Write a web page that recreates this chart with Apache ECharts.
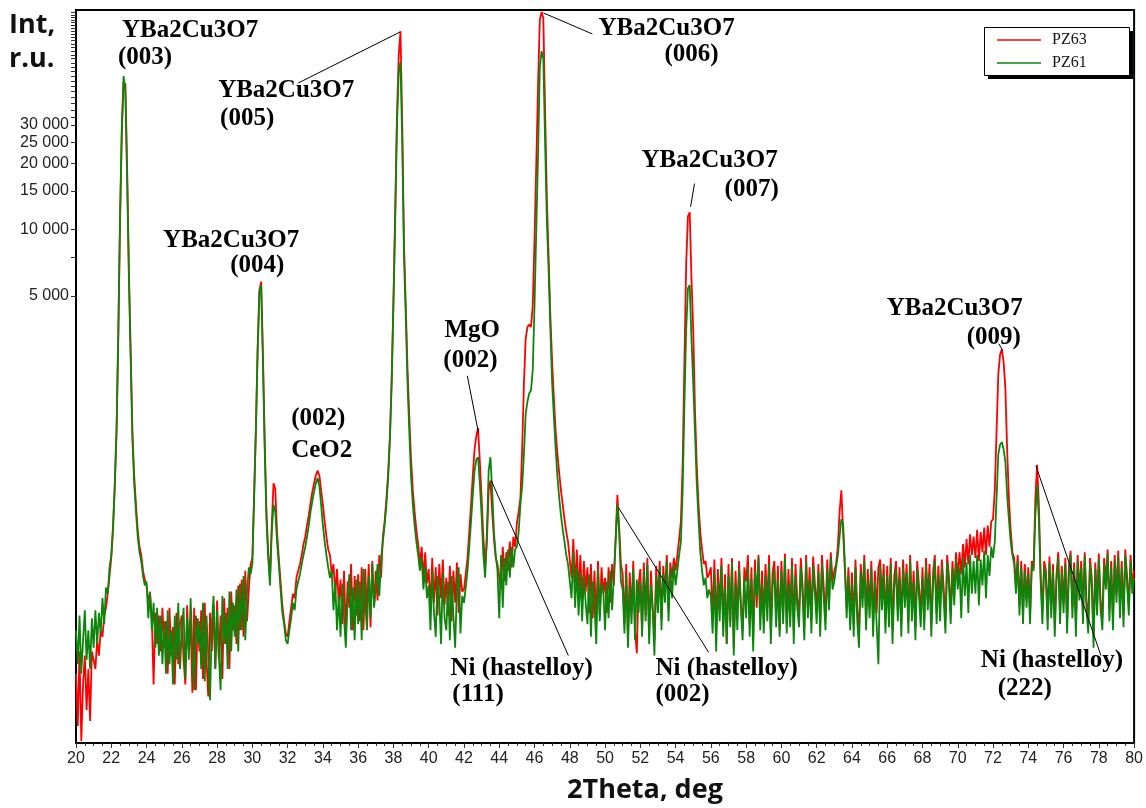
<!DOCTYPE html>
<html>
<head>
<meta charset="utf-8">
<script src="https://cdn.jsdelivr.net/npm/echarts@6/dist/echarts.min.js"></script>
<style>
  html, body { margin: 0; padding: 0; background: #fff; }
  #xrd { width: 1146px; height: 808px; }
</style>
</head>
<body>
<div id="xrd"></div>
<script>
// scan grid: 2Theta from 20 to 80 deg, 0.1 deg step
const START = 20
const STEP = 0.1

// PZ63 (red), one row per degree
const pz63 = [
  95, 55, 120, 47, 85, 115, 65, 100, 58, 120,
  120, 100, 135, 115, 150, 140, 175, 190, 220, 265,
  320, 430, 680, 1200, 3300, 11000, 28000, 47000, 46000, 19000,
  6500, 2800, 1200, 760, 560, 430, 360, 330, 280, 255,
  240, 205, 220, 170, 85, 180, 130, 175, 120, 190,
  125, 165, 95, 190, 115, 155, 85, 180, 105, 160,
  175, 110, 85, 195, 120, 165, 78, 190, 80, 170,
  120, 185, 90, 200, 110, 75, 180, 120, 195, 100,
  205, 110, 175, 90, 210, 130, 190, 100, 225, 150,
  195, 130, 240, 150, 255, 140, 280, 165, 230, 300,
  320, 620, 1250, 2900, 5300, 5800, 2700, 1100, 520, 340,
  260, 450, 700, 660, 420, 320, 250, 195, 165, 145,
  140, 165, 190, 220, 210, 260, 280, 300, 330, 370,
  400, 450, 500, 570, 640, 700, 760, 800, 760, 650,
  560, 470, 400, 350, 330, 270, 300, 220, 285, 200,
  255, 160, 280, 140, 250, 190, 300, 150, 265, 175,
  270, 165, 290, 150, 285, 180, 300, 155, 310, 195,
  280, 205, 330, 260, 400, 470, 590, 780, 1150, 2100,
  4800, 12000, 33000, 62000, 80000, 30000, 8500, 4500, 2300, 1400,
  900, 650, 520, 430, 370, 300, 360, 260, 340, 245,
  285, 190, 320, 200, 290, 175, 300, 210, 315, 195,
  260, 175, 295, 165, 280, 200, 305, 180, 270, 225,
  230, 270, 320, 420, 560, 760, 1000, 1150, 1250, 880,
  600, 400, 290, 380, 650, 720, 520, 390, 320, 300,
  300, 230, 360, 250, 340, 280, 380, 290, 400, 360,
  460, 520, 600, 1000, 2000, 3200, 3600, 3700, 3600, 4500,
  9000, 20000, 45000, 90000, 98000, 92000, 35000, 14000, 7500, 4000,
  2500, 1700, 1200, 950, 780, 650, 560, 480, 420, 380,
  380, 260, 390, 235, 350, 220, 330, 205, 310, 225,
  290, 180, 300, 170, 280, 160, 310, 175, 290, 220,
  260, 180, 290, 200, 300, 240, 400, 620, 440, 300,
  270, 160, 300, 140, 275, 180, 310, 150, 118, 240,
  285, 150, 305, 175, 320, 140, 280, 190, 135, 295,
  200, 310, 170, 295, 220, 330, 185, 305, 260, 320,
  280, 330, 390, 470, 850, 2500, 7000, 11500, 12000, 6000,
  3500, 1500, 850, 560, 420, 350, 300, 310, 260, 270,
  290, 170, 315, 150, 285, 190, 320, 160, 270, 130,
  300, 165, 320, 125, 280, 170, 310, 200, 150, 290,
  250, 330, 160, 290, 140, 315, 190, 330, 175, 280,
  170, 300, 190, 330, 150, 275, 310, 165, 295, 150,
  310, 180, 335, 160, 285, 175, 320, 150, 300, 210,
  175, 320, 240, 155, 330, 190, 290, 165, 325, 245,
  185, 300, 160, 330, 235, 170, 315, 200, 340, 250,
  280, 300, 360, 520, 650, 420, 280, 190, 290, 170,
  275, 160, 315, 190, 145, 300, 210, 330, 170, 285,
  190, 310, 160, 280, 180, 290, 315, 205, 300, 165,
  295, 175, 320, 150, 265, 310, 185, 290, 160, 315,
  210, 300, 165, 330, 190, 280, 155, 310, 240, 175,
  290, 170, 320, 205, 300, 160, 275, 330, 180, 295,
  190, 315, 235, 165, 330, 265, 180, 310, 220, 340,
  260, 340, 270, 370, 290, 390, 300, 410, 330, 400,
  320, 430, 310, 420, 340, 440, 330, 450, 360, 470,
  480, 650, 1200, 2200, 2700, 2850, 2500, 1900, 1000, 600,
  430, 340, 320, 240, 330, 195, 310, 180, 300, 210,
  290, 180, 310, 290, 600, 850, 560, 270, 180, 310,
  280, 170, 325, 190, 300, 160, 270, 340, 180, 295,
  200, 320, 165, 290, 345, 190, 305, 160, 330, 225,
  310, 180, 340, 205, 165, 320, 260, 145, 305, 195,
  335, 205, 170, 320, 250, 350, 185, 310, 170, 330,
  220, 345, 190, 310, 175, 350, 265, 195, 330, 240,
  280
]

// PZ61 (green)
const pz61 = [
  150, 105, 175, 95, 135, 185, 110, 150, 100, 170,
  125, 185, 130, 180, 145, 210, 160, 235, 220, 290,
  330, 450, 700, 1250, 3500, 12000, 30000, 50000, 42000, 17000,
  6000, 2600, 1100, 700, 520, 400, 340, 310, 265, 240,
  250, 170, 225, 150, 200, 125, 190, 115, 175, 105,
  165, 95, 185, 105, 150, 85, 175, 110, 200, 100,
  150, 190, 90, 170, 110, 210, 120, 80, 175, 130,
  165, 100, 200, 88, 175, 115, 72, 160, 215, 100,
  185, 115, 80, 215, 130, 180, 100, 225, 120, 200,
  140, 230, 120, 245, 150, 265, 135, 225, 290, 270,
  300, 600, 1200, 2800, 5200, 5600, 2500, 1000, 480, 320,
  240, 420, 560, 520, 380, 300, 230, 180, 160, 135,
  130, 150, 170, 200, 185, 230, 250, 270, 300, 330,
  360, 400, 450, 520, 580, 640, 700, 740, 680, 560,
  450, 380, 330, 290, 260, 280, 185, 250, 150, 215,
  140, 245, 170, 125, 215, 270, 150, 235, 135, 255,
  160, 250, 135, 285, 200, 150, 265, 170, 300, 190,
  230, 300, 215, 320, 380, 450, 560, 740, 1100, 2000,
  4500, 11000, 30000, 52000, 58000, 25000, 7500, 4000, 2000, 1200,
  750, 560, 450, 380, 330, 280, 320, 230, 290, 210,
  240, 150, 280, 180, 140, 265, 210, 130, 275, 170,
  150, 250, 135, 265, 175, 125, 235, 290, 145, 215,
  200, 235, 280, 360, 470, 620, 800, 900, 920, 700,
  500, 330, 260, 420, 800, 920, 650, 420, 330, 280,
  170, 330, 190, 320, 240, 350, 260, 360, 290, 350,
  360, 420, 560, 680, 950, 1450, 1650, 1800, 1850, 2300,
  4500, 10000, 22000, 55000, 65000, 60000, 25000, 11000, 6500, 3500,
  2000, 1400, 1000, 750, 600, 500, 430, 380, 330, 300,
  300, 210, 340, 190, 290, 175, 275, 165, 265, 200,
  160, 270, 140, 250, 195, 130, 285, 165, 245, 230,
  150, 250, 170, 280, 185, 270, 380, 560, 420, 250,
  230, 145, 270, 125, 240, 160, 285, 135, 255, 180,
  250, 140, 280, 165, 300, 130, 240, 185, 115, 265,
  180, 290, 150, 270, 200, 310, 165, 285, 210, 300,
  240, 280, 330, 380, 650, 1600, 3500, 5400, 5600, 3200,
  2000, 1200, 700, 480, 340, 280, 240, 260, 210, 230,
  215, 145, 275, 120, 250, 165, 295, 140, 235, 130,
  265, 155, 305, 115, 245, 150, 285, 190, 135, 260,
  170, 290, 140, 255, 120, 280, 215, 320, 150, 245,
  145, 265, 165, 300, 130, 235, 285, 155, 255, 140,
  280, 160, 320, 145, 245, 155, 295, 130, 265, 190,
  155, 290, 215, 135, 310, 170, 255, 145, 295, 220,
  160, 275, 140, 300, 210, 150, 285, 185, 320, 230,
  250, 290, 330, 400, 480, 460, 300, 170, 265, 150,
  245, 140, 290, 165, 125, 275, 190, 310, 150, 255,
  170, 285, 140, 250, 160, 105, 295, 185, 270, 145,
  265, 155, 300, 130, 235, 285, 165, 260, 140, 290,
  190, 275, 145, 310, 165, 250, 135, 285, 215, 155,
  260, 150, 295, 185, 270, 140, 245, 310, 160, 265,
  165, 290, 210, 145, 305, 240, 160, 285, 195, 315,
  230, 290, 170, 320, 215, 305, 180, 330, 220, 310,
  220, 330, 195, 315, 240, 345, 210, 330, 265, 360,
  320, 380, 600, 950, 1050, 1080, 1000, 880, 620, 480,
  380, 330, 300, 220, 310, 175, 290, 160, 280, 190,
  270, 160, 295, 280, 500, 680, 480, 250, 160, 290,
  255, 150, 305, 170, 280, 140, 250, 320, 160, 275,
  180, 300, 145, 265, 330, 170, 285, 140, 310, 205,
  290, 160, 325, 185, 145, 300, 240, 125, 285, 175,
  315, 185, 150, 300, 230, 335, 165, 290, 150, 310,
  200, 325, 170, 290, 155, 330, 245, 175, 310, 220,
  260
]

// y axis
const yLabels = [5000, 10000, 15000, 20000, 25000, 30000]
const yMinorTicks = [7500, 32500, 35000, 37500, 40000, 42500, 45000, 47500, 50000,
  52500, 55000, 57500, 60000, 62500, 65000, 67500, 70000, 72500, 75000, 77500,
  80000, 82500, 85000, 87500, 90000, 92500, 95000, 97500]

// peak labels: [text, 2theta at left edge, intensity at text middle]
const notes = [
  ['YBa2Cu3O7', 22.61, 80300], ['(003)', 22.38, 60500],
  ['YBa2Cu3O7', 28.06, 42800], ['(005)', 28.17, 31900],
  ['YBa2Cu3O7', 24.94, 8900], ['(004)', 28.74, 6840],
  ['(002)', 32.2, 1380], ['CeO2', 32.2, 985],
  ['YBa2Cu3O7', 49.63, 82000], ['(006)', 53.37, 62400],
  ['YBa2Cu3O7', 52.07, 20600], ['(007)', 56.78, 15300],
  ['MgO', 40.89, 3470], ['(002)', 40.83, 2530],
  ['Ni (hastelloy)', 41.23, 100.5], ['(111)', 41.34, 76.5],
  ['Ni (hastelloy)', 52.86, 100.5], ['(002)', 52.86, 76.5],
  ['YBa2Cu3O7', 65.97, 4360], ['(009)', 70.51, 3220],
  ['Ni (hastelloy)', 71.31, 109], ['(222)', 72.27, 81.5]
]

// leader lines from label to peak
const leaders = [
  [[32.6, 46500], [38.39, 79500]],
  [[46.5, 97000], [49.28, 77800]],
  [[55.07, 16200], [54.85, 12700]],
  [[42.19, 2160], [42.82, 1190]],
  [[43.55, 720], [47.92, 115]],
  [[50.76, 543], [55.87, 119]],
  [[74.43, 842], [78.12, 115]],
  [[72.33, 3025], [72.55, 2807]]
]

if (pz63.length !== 601 || pz61.length !== 601) {
  throw new Error('bad lengths ' + pz63.length + ' ' + pz61.length)
}

const toPairs = arr => arr.map((v, i) => [+(START + i * STEP).toFixed(1), v])
const spaced = v => String(v).replace(/\B(?=(\d{3})+(?!\d))/g, ' ')

const chart = echarts.init(document.getElementById('xrd'))
const option = {
  animation: false,
  backgroundColor: '#fff',
  grid: { left: 76, right: 11, top: 10, bottom: 65, show: true, borderColor: '#000', borderWidth: 2 },
  legend: {
    data: ['PZ63', 'PZ61'],
    icon: 'rect',
    orient: 'vertical',
    left: 985,
    top: 27,
    z: 10,
    padding: [5, 0, 0, 12],
    itemGap: 7,
    itemWidth: 44,
    itemHeight: 1.5,
    textStyle: { fontFamily: 'Liberation Serif', fontSize: 16, color: '#111', padding: [0, 0, 0, 6] }
  },
  xAxis: {
    type: 'value',
    min: 20,
    max: 80,
    interval: 2,
    axisLine: { lineStyle: { color: '#000', width: 2 } },
    axisTick: { length: 5, lineStyle: { color: '#333' } },
    minorTick: { show: true, splitNumber: 4, length: 3, lineStyle: { color: '#333' } },
    splitLine: { show: false },
    axisLabel: { color: '#222', fontSize: 16, fontFamily: 'Liberation Sans', margin: 8 }
  },
  yAxis: {
    type: 'log',
    logBase: 10,
    min: 46,
    max: 100000,
    axisLine: { show: true, lineStyle: { color: '#000', width: 2 } },
    axisTick: { show: true, length: 5, customValues: yLabels.concat(yMinorTicks), lineStyle: { color: '#333' } },
    splitLine: { show: false },
    axisLabel: {
      customValues: yLabels,
      formatter: spaced,
      color: '#222',
      fontSize: 16,
      fontFamily: 'Liberation Sans',
      margin: 7
    }
  },
  series: [
    {
      name: 'PZ63',
      type: 'line',
      symbol: 'none',
      color: '#ff0000',
      lineStyle: { width: 1.8, color: '#ff0000' },
      data: toPairs(pz63)
    },
    {
      name: 'PZ61',
      type: 'line',
      symbol: 'none',
      color: '#0b860b',
      lineStyle: { width: 1.8, color: '#0b860b' },
      data: toPairs(pz61)
    },
    {
      type: 'lines',
      coordinateSystem: 'cartesian2d',
      silent: true,
      lineStyle: { color: '#000', width: 1, opacity: 1, curveness: 0 },
      data: leaders.map(c => ({ coords: c })),
      z: 5
    },
    {
      type: 'scatter',
      silent: true,
      symbolSize: 0,
      z: 6,
      itemStyle: { opacity: 1 },
      label: {
        show: true,
        position: 'right',
        distance: 0,
        verticalAlign: 'middle',
        fontFamily: 'Liberation Serif',
        fontWeight: 'bold',
        fontSize: 25,
        color: '#000',
        opacity: 1
      },
      data: notes.map(n => ({ value: [n[1], n[2]], label: { formatter: n[0] } }))
    }
  ],
  graphic: [
    {
      type: 'text',
      left: 9,
      top: 8,
      style: {
        text: 'Int,\nr.u.',
        font: 'bold 27px "Open Sans"',
        lineHeight: 34,
        fill: '#111'
      }
    },
    {
      type: 'text',
      x: 645,
      y: 790,
      style: {
        text: '2Theta, deg',
        font: 'bold 27px "Open Sans"',
        textAlign: 'center',
        textVerticalAlign: 'middle',
        fill: '#111'
      }
    },
    // legend frame with its drop shadow
    {
      type: 'rect',
      z: 8,
      shape: { x: 988, y: 31, width: 145, height: 48 },
      style: { fill: '#000' }
    },
    {
      type: 'rect',
      z: 9,
      shape: { x: 984.5, y: 27.5, width: 145, height: 48 },
      style: { fill: '#fff', stroke: '#000', lineWidth: 1 }
    }
  ]
}
chart.setOption(option)
</script>
</body>
</html>
